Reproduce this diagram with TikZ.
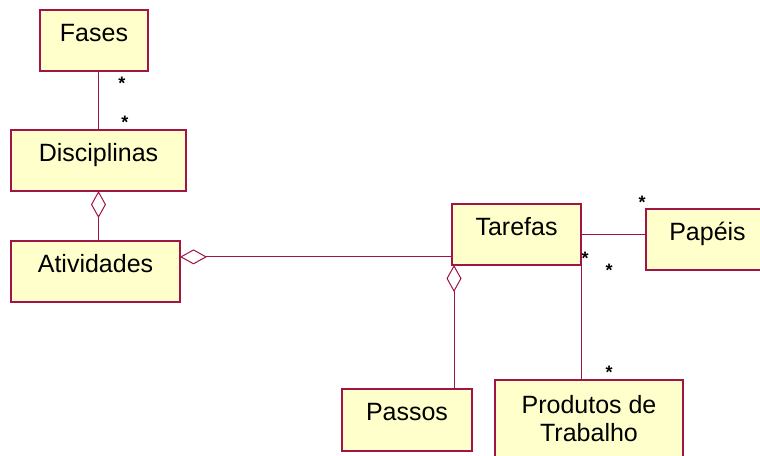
\documentclass[tikz,border=0pt]{standalone}
\usepackage{fontspec}
\setmainfont{Liberation Sans}
\usetikzlibrary{arrows.meta,calc}
\definecolor{umlred}{RGB}{160,20,70}
\definecolor{umlfill}{RGB}{255,255,204}

\tikzset{
  cls/.style={draw=umlred, fill=umlfill, line width=1.3pt, anchor=north west,
    inner sep=0pt, outer sep=0pt, text height=31pt, text depth=30pt,
    font=\fontsize{25}{28}\selectfont},
  mult/.style={font=\fontsize{18}{18}\selectfont\bfseries, inner sep=0pt, anchor=north},
  assoc/.style={draw=umlred, line width=1pt},
  aggr/.style={assoc, {Diamond[open,length=27pt,width=15pt]}-},
}

\begin{document}
\begin{tikzpicture}[x=1pt,y=-1pt]
  \clip (0,0) rectangle (760,455);

  % Classes
  \node[cls, minimum width=108pt] (fases) at (40,10) {Fases};
  \node[cls, minimum width=175pt] (disc) at (11,130) {Disciplinas};
  \node[cls, minimum width=169pt] (ativ) at (11,241) {Atividades};
  \node[cls, minimum width=129pt] (tarefas) at (452,204) {Tarefas};
  \node[cls, minimum width=143pt] (papeis) at (646,209) {Papéis\hspace*{20pt}};
  \node[cls, minimum width=130pt, minimum height=62pt] (passos) at (342,389) {Passos};
  \node[cls, text height={}, text depth={}, align=center,
    minimum width=188pt, minimum height=78pt] (produtos) at (495,380)
    {Produtos de\\Trabalho};

  % Associations
  \draw[assoc] (fases.south -| disc.north) -- (disc.north);
  \draw[assoc] (tarefas.east) -- (tarefas.east -| papeis.west);
  \draw[assoc] (tarefas.south east) -- (tarefas.south east |- produtos.north);

  % Aggregations
  \coordinate (ativR) at ($(ativ.north east)!0.26!(ativ.south east)$);
  \draw[aggr] (disc.south) -- (disc.south |- ativ.north);
  \draw[aggr] (ativR) -- (ativR -| tarefas.west);
  \draw[aggr] ([xshift=2pt]tarefas.south west) --
    ([xshift=2pt]tarefas.south west |- passos.north);

  % Multiplicities
  \node[mult] (m1) at (122,77) {*};
  \node[mult] (m2) at (125,116) {*};
  \node[mult] (m3) at (642,196) {*};
  \node[mult] (m4) at (585,252) {*};
  \node[mult] (m5) at (609,264) {*};
  \node[mult] (m6) at (609,366) {*};
\end{tikzpicture}
\end{document}
